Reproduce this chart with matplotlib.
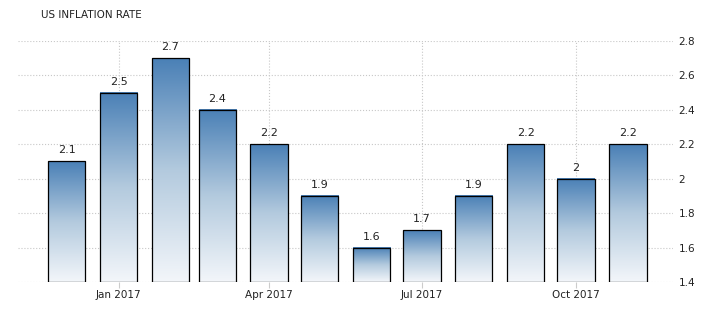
import datetime as dt
import numpy as np
import matplotlib
matplotlib.use("Agg")
import matplotlib.pyplot as plt
import matplotlib.dates as mdates
from matplotlib.colors import LinearSegmentedColormap

# dados: inflação anual nos EUA, dez/2016 a nov/2017
meses = [dt.date(2016, 12, 1)] + [dt.date(2017, m, 1) for m in range(1, 12)]
valores = [2.1, 2.5, 2.7, 2.4, 2.2, 1.9, 1.6, 1.7, 1.9, 2.2, 2.0, 2.2]
rotulos = ["2.1", "2.5", "2.7", "2.4", "2.2", "1.9", "1.6", "1.7", "1.9", "2.2", "2", "2.2"]
y_ticks = [1.4, 1.6, 1.8, 2.0, 2.2, 2.4, 2.6, 2.8]
y_labels = ["1.4", "1.6", "1.8", "2", "2.2", "2.4", "2.6", "2.8"]
x_ticks = [dt.date(2017, 1, 1), dt.date(2017, 4, 1), dt.date(2017, 7, 1), dt.date(2017, 10, 1)]

BASE = 1.4
LARGURA = 22.5  # dias

plt.rcParams["font.family"] = "DejaVu Sans"
fig = plt.figure(figsize=(7.15, 3.13), dpi=100)
ax = fig.add_axes([18 / 715, 31 / 313, (673 - 18) / 715, (282 - 41) / 313])

cmap = LinearSegmentedColormap.from_list("azul", ["#f3f6fa", "#b3cade", "#4a80b6"])
grad = np.linspace(0, 1, 256).reshape(-1, 1)

for d, v, r in zip(meses, valores, rotulos):
    xc = mdates.date2num(d)
    x0, x1 = xc - LARGURA / 2, xc + LARGURA / 2
    ax.imshow(grad, cmap=cmap, origin="lower", aspect="auto",
              extent=[x0, x1, BASE, v], zorder=2)
    ax.add_patch(plt.Rectangle((x0, BASE), LARGURA, v - BASE, fill=False,
                               edgecolor="black", linewidth=0.9, zorder=3))
    ax.text(xc, v + 0.035, r, ha="center", va="bottom", fontsize=8, color="#222222")

ax.set_xlim(mdates.date2num(dt.date(2016, 11, 2)), mdates.date2num(dt.date(2017, 11, 28)))
ax.set_ylim(1.4, 2.8)

ax.set_xticks([mdates.date2num(d) for d in x_ticks])
ax.set_xticklabels([d.strftime("%b %Y") for d in x_ticks])
ax.set_yticks(y_ticks)
ax.set_yticklabels(y_labels)
ax.yaxis.tick_right()
ax.tick_params(axis="y", length=0, pad=4, labelsize=7.5, labelcolor="#222222")
ax.tick_params(axis="x", length=4, color="#cccccc", pad=2, labelsize=7.5, labelcolor="#222222")
ax.grid(True, linestyle=":", color="#c8c8c8", linewidth=0.8, zorder=0)
ax.set_axisbelow(True)
for s in ax.spines.values():
    s.set_visible(False)

fig.text(41 / 715, 1 - 15 / 313, "US INFLATION RATE", fontsize=7.5, color="#222222",
         va="center", ha="left")

fig.savefig("out.png", dpi=100)
